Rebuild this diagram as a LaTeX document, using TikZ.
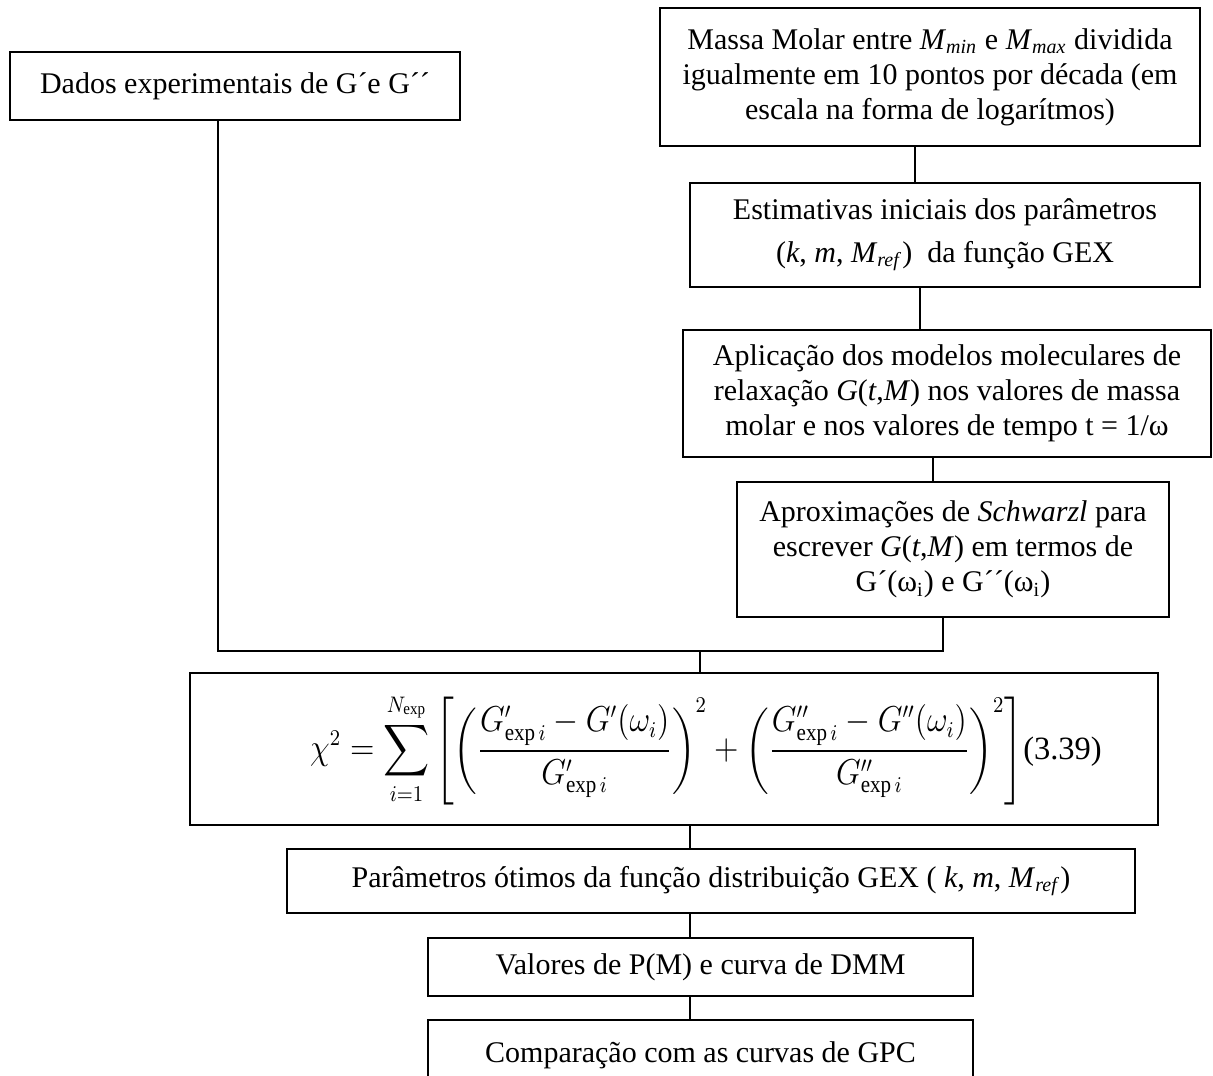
\documentclass[tikz,border=0pt]{standalone}
\usepackage{amsmath}
\usepackage{graphicx}
\usepackage{fontspec}
\setmainfont{Liberation Serif}
\begin{document}
\begin{tikzpicture}[x=0.4pt,y=-0.4pt,
  box/.style={draw, line width=0.8pt, inner sep=0pt, align=center, font=\fontsize{12}{14}\selectfont},
  conn/.style={line width=0.6pt}]
\useasboundingbox (0,0) rectangle (1213,1075);
\clip (0,0) rectangle (1213,1075);
\fill[white] (0,0) rectangle (1213,1075);

\node[box, minimum width=180pt, minimum height=27.2pt] (A) at (235,86) {Dados experimentais de G´e G´´};
\node[box, minimum width=216pt, minimum height=55.2pt] (B) at (930,77)
  {Massa Molar entre \textit{M}\textsubscript{\textit{min}} e \textit{M}\textsubscript{\textit{max}} dividida\\
   igualmente em 10 pontos por década (em\\ escala na forma de logarítmos)};
\node[box, minimum width=204pt, minimum height=41.6pt] (C) at (945,235)
  {Estimativas iniciais dos parâmetros\\[3pt] (\textit{k}, \textit{m}, \textit{M}\textsubscript{\textit{ref}})~ da função GEX};
\node[box, minimum width=211.2pt, minimum height=50.8pt] (D) at (947,393.5)
  {Aplicação dos modelos moleculares de\\ relaxação \textit{G}(\textit{t},\textit{M}) nos valores de massa\\ molar e nos valores de tempo t = 1/ω};
\node[box, minimum width=172.8pt, minimum height=54pt] (E) at (953,549.5)
  {Aproximações de \textit{Schwarzl} para\\ escrever \textit{G}(\textit{t},\textit{M}) em termos de\\ G´(ω\textsubscript{i}) e G´´(ω\textsubscript{i})};
\node[box, minimum width=387.2pt, minimum height=60.8pt] (F) at (674,749) {};
\node[inner sep=0pt, font=\fontsize{12}{14}\selectfont] (Ft) at (706,749)
  {\scalebox{0.89}[1]{\fontsize{13.5}{16}\selectfont$\displaystyle \chi^{2} = \sum_{i=1}^{N_{\exp}} \left[ \left( \frac{G'_{\exp i} - G'(\omega_i)}{G'_{\exp i}} \right)^{2} + \left( \frac{G''_{\exp i} - G''(\omega_i)}{G''_{\exp i}} \right)^{2} \right]$}\fontsize{13}{15}\selectfont(3.39)};
\node[box, minimum width=339.2pt, minimum height=25.6pt] (G) at (711,881)
  {Parâmetros ótimos da função distribuição GEX ( \textit{k}, \textit{m}, \textit{M}\textsubscript{\textit{ref}})};
\node[box, minimum width=218pt, minimum height=23.2pt] (H) at (700.5,967) {Valores de P(M) e curva de DMM};
\node[box, minimum width=218pt, minimum height=28pt] (I) at (700.5,1055) {Comparação com as curvas de GPC};

\coordinate (xBC) at (915,0);
\coordinate (xCD) at (920,0);
\coordinate (xDE) at (933,0);
\coordinate (xE) at (943,0);
\coordinate (xA) at (218,0);
\coordinate (xF) at (690,0);
\coordinate (J) at (700,651);

\draw[conn] (B.south -| xBC) -- (C.north -| xBC);
\draw[conn] (C.south -| xCD) -- (D.north -| xCD);
\draw[conn] (D.south -| xDE) -- (E.north -| xDE);
\draw[conn] (E.south -| xE) -- (J -| xE) -- (J -| xA) -- (A.south -| xA);
\draw[conn] (J) -- (F.north -| J);
\draw[conn] (F.south -| xF) -- (G.north -| xF);
\draw[conn] (G.south -| xF) -- (H.north -| xF);
\draw[conn] (H.south -| xF) -- (I.north -| xF);
\end{tikzpicture}
\end{document}
